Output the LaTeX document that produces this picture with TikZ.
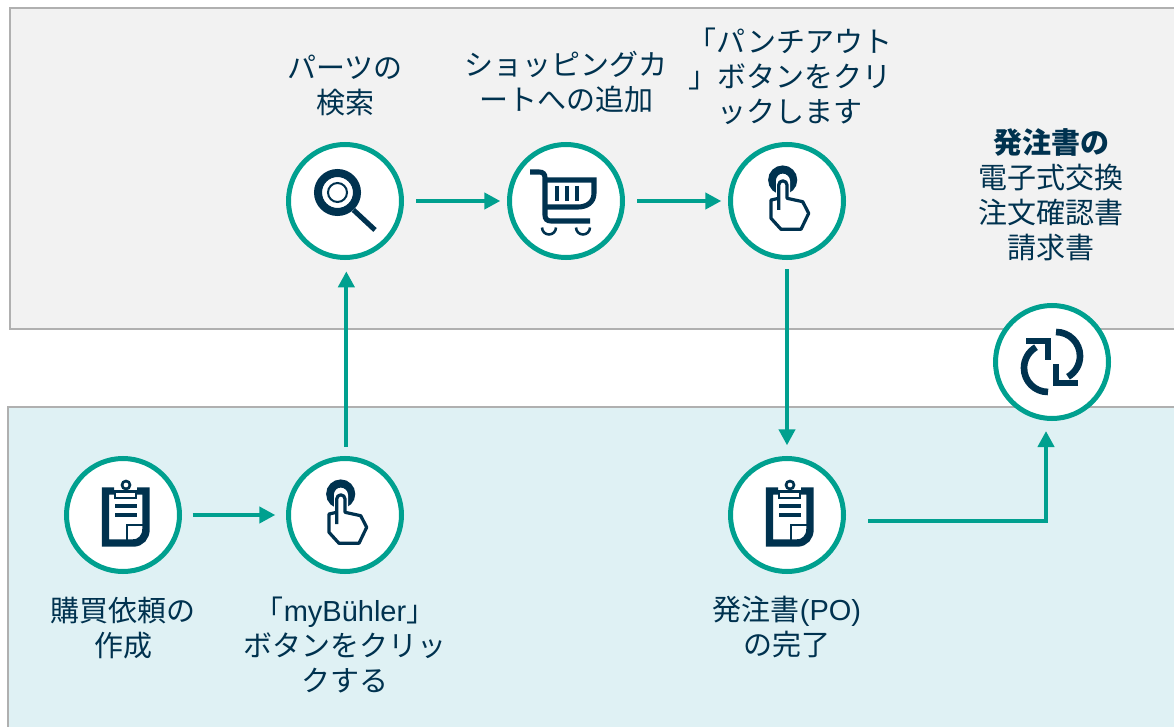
\documentclass[tikz,border=0pt]{standalone}
\usepackage{fontspec}
\setmainfont{Liberation Sans}
\newfontfamily\cj{Noto Sans CJK JP}
\usetikzlibrary{arrows.meta}
\definecolor{teal1}{HTML}{00A08F}
\definecolor{navy}{HTML}{00324F}
\definecolor{greybg}{HTML}{F2F2F2}
\definecolor{bluebg}{HTML}{DFF1F4}
\definecolor{edgegrey}{HTML}{B0B0B0}
\tikzset{
  band/.style={draw=edgegrey,line width=1.1pt},
  stepc/.style={circle,draw=teal1,fill=white,line width=3.75pt,minimum size=84.75pt,inner sep=0pt},
  flow/.style={draw=teal1,line width=3pt,-{Triangle[length=12pt,width=12pt]}},
  lab/.style={align=center,text=navy,font=\cj\fontsize{21.75}{26.25}\selectfont,inner sep=0pt},
  ico/.style={yscale=-1},
  ic/.style={draw=navy,line join=miter},
  pics/lens/.style={code={
    \draw[ic,line width=6pt] (-7.5,-8.5) circle[radius=19.5];
    \draw[ic,line width=1.5pt] (-7.5,-8.5) circle[radius=9.5];
    \draw[ic,line width=3.8pt] (8.5,9) -- (30,29);
  }},
  pics/cart/.style={code={
    \draw[ic,line width=3.8pt] (-36,-29) -- (-27,-29) .. controls (-23,-29) and (-21,-27) .. (-21,-23) -- (-21,14) .. controls (-21,18) and (-19,20) .. (-15,20) -- (24,20);
    \draw[ic,line width=3.8pt] (-21,-21) -- (28,-21) -- (28,-8) .. controls (28,2) and (20,6) .. (12,6) -- (-21,6);
    \draw[ic,line width=2.7pt] (-9,-15) -- (-9,0) (1,-15) -- (1,0) (11,-15) -- (11,0);
    \draw[ic,line width=1.9pt] (-24,26.5) arc[start angle=180,end angle=0,radius=7];
    \draw[ic,line width=1.9pt] (10,26.5) arc[start angle=180,end angle=0,radius=7];
  }},
  pics/tap/.style={code={
    \draw[ic,line width=6pt] (-4.3,-21) circle[radius=10.5];
    \path[fill=white] (-11,-20) -- (-11,6) -- (3,6) -- (3,-20) arc[start angle=0,end angle=-180,radius=7] -- cycle;
    \draw[ic,line width=2.4pt,fill=white,line join=round]
      (-8.3,9) -- (-8.3,-16) arc[start angle=180,end angle=360,radius=4.15] -- (0,-2.7)
      -- (15.7,0.7) -- (21.7,12.3) -- (14,28.3) -- (-6,28.3) -- (-16,17.3) -- (-16,-1) -- (-8.3,-2.7);
  }},
  pics/refresh/.style={code={
    \draw[ic,line width=5pt] (-4,30) arc[start angle=90,end angle=240,radius=24];
    \draw[ic,line width=5pt] (-26,-21) -- (-4,-21) -- (-4,-2);
    \draw[ic,line width=5pt] (4,-30) arc[start angle=270,end angle=420,radius=24];
    \draw[ic,line width=5pt] (26,21) -- (4,21) -- (4,2);
  }},
  pics/board/.style={code={
    \draw[ic,line width=5.6pt] (-9,-24) -- (-17.5,-24) -- (-17.5,28) -- (10,28) .. controls (18,28) and (23,22) .. (23,14) -- (23,-24) -- (14,-24);
    \draw[ic,line width=2pt] (4,25) -- (4,10) -- (21,10);
    \draw[ic,line width=2pt,fill=white] (-8,-23.5) rectangle (13,-17);
    \draw[ic,line width=2pt,fill=white] (3,-30) circle[radius=4];
    \draw[ic,line width=2.4pt] (-8,-9) -- (13.5,-9) (-8,0) -- (13.5,0);
  }}
}
\begin{document}
\begin{tikzpicture}[x=0.75pt,y=0.75pt,yscale=-1]
\useasboundingbox (0,0) rectangle (1174,727);
\clip (0,0) rectangle (1174,727);
\path[band,fill=greybg] (10,8) rectangle (1190,329);
\path[band,fill=bluebg] (8,407) rectangle (1190,745);

\node[stepc] (search) at (345,201) {};
\node[stepc] (cart) at (566,201) {};
\node[stepc] (punch) at (787,201) {};
\node[stepc] (sync) at (1052,362) {};
\node[stepc] (req) at (123,515) {};
\node[stepc] (my) at (345,515) {};
\node[stepc] (po) at (787,515) {};

\pic[ico] at (search) {lens};
\pic[ico] at (cart) {cart};
\pic[ico] at (punch) {tap};
\pic[ico] at (sync) {refresh};
\pic[ico] at (req) {board};
\pic[ico] at (my) {tap};
\pic[ico] at (po) {board};

\draw[flow,shorten <=9pt,shorten >=5pt] (search) -- (cart);
\draw[flow,shorten <=9pt,shorten >=5pt] (cart) -- (punch);
\draw[flow,shorten <=8pt,shorten >=8pt] (req) -- (my);
\draw[flow,shorten <=7pt,shorten >=8.5pt] ([xshift=1pt]my.north) -- ([xshift=1pt]search.south);
\draw[flow,shorten <=7pt,shorten >=8pt] (punch) -- (po);
\coordinate (bend0) at (868,521);
\coordinate (bend1) at (1046,421);
\draw[flow,shorten >=7.5pt] (bend0) -| (bend1);

\node[lab] (t1) at (345,85) {パーツの\\検索};
\node[lab] (t2) at (566,82) {ショッピングカ\\ートへの追加};
\node[lab] (t3) at (790,76) {「パンチアウト\\」ボタンをクリ\\ックします};
\node[lab] (t4) at (1051,195) {{\bfseries 発注書の}\\電子式交換\\注文確認書\\請求書};
\node[lab] (t5) at (123,628) {購買依頼の\\作成};
\node[lab] (t6) at (345,645) {「{\rmfamily myBühler}」\\ボタンをクリッ\\クする};
\node[lab] (t7) at (787,627) {発注書{\rmfamily (PO)}\\の完了};
\end{tikzpicture}
\end{document}
